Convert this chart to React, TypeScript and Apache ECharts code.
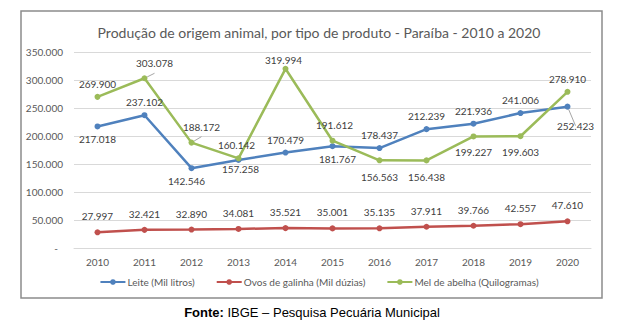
import React, { useEffect, useRef } from "react";
import * as echarts from "echarts";

const years = ["2010", "2011", "2012", "2013", "2014", "2015", "2016", "2017", "2018", "2019", "2020"];
const leite = [217018, 237102, 142546, 157258, 170479, 181767, 178437, 212239, 221936, 241006, 252423];
const ovos = [27997, 32421, 32890, 34081, 35521, 35001, 35135, 37911, 39766, 42557, 47610];
const mel = [269900, 303078, 188172, 160142, 319994, 191612, 156563, 156438, 199227, 199603, 278910];

const leitePos = ["bottom", "top", "bottom", "bottom", "top", "bottom", "top", "top", "top", "top", "bottom"];
const melPos = ["top", "top", "top", "top", "top", "top", "bottom", "bottom", "bottom", "bottom", "top"];
const leiteOffset: number[][] = [[0, 0], [0, 0], [-5, 0], [2, -4], [0, 0], [5, 0], [0, 0], [0, 0], [0, 0], [0, 0], [8, 6]];
const melOffset: number[][] = [[0, 0], [10, -2], [10, -3], [-2, 0], [-2, 4], [2, -3], [0, 4], [0, 4], [0, 3], [0, 3], [0, 0]];

const fmt = (v: number) => String(Math.round(v)).replace(/\B(?=(\d{3})+(?!\d))/g, ".");

const LABEL = { color: "#404040", fontSize: 10, fontFamily: "Lato" };

export default function App() {
  const ref = useRef<HTMLDivElement>(null);
  useEffect(() => {
    const chart = echarts.init(ref.current!, null, { renderer: "svg" });
    const mk = (vals: number[], pos: string[], off: number[][]) =>
      vals.map((v, i) => ({
        value: v,
        label: { position: pos[i], offset: off[i], distance: 5 },
        labelLine: { show: Math.abs(off[i][0]) >= 8, lineStyle: { color: "#a6a6a6", width: 1 } },
      }));
    chart.setOption({
      animation: false,
      textStyle: { fontFamily: "Lato" },
      title: {
        text: "Produção de origem animal, por tipo de produto - Paraíba - 2010 a 2020",
        left: "center",
        top: 20,
        textStyle: { fontFamily: "Lato", fontSize: 14, fontWeight: "normal", color: "#595959" },
      },
      grid: { left: 74, right: 47, top: 52, bottom: 85, containLabel: false },
      legend: {
        bottom: 41,
        left: "center",
        itemWidth: 25,
        itemHeight: 7,
        itemGap: 21,
        textStyle: { fontFamily: "Lato", fontSize: 10, color: "#595959", padding: [0, 0, 0, -3] },
        data: ["Leite (Mil litros)", "Ovos de galinha (Mil dúzias)", "Mel de abelha (Quilogramas)"],
      },
      xAxis: {
        type: "category",
        data: years,
        axisTick: { show: false },
        axisLine: { lineStyle: { color: "#d9d9d9" } },
        axisLabel: { color: "#595959", fontSize: 10, fontFamily: "Lato", margin: 9 },
      },
      yAxis: {
        type: "value",
        min: 0,
        max: 350000,
        interval: 50000,
        axisLine: { show: false },
        axisTick: { show: false },
        splitLine: { lineStyle: { color: "#d9d9d9" } },
        axisLabel: {
          color: "#595959",
          fontSize: 10,
          fontFamily: "Lato",
          margin: 11,
          formatter: (v: number) => (v === 0 ? "{d|-}" : fmt(v)),
          rich: { d: { color: "#595959", fontSize: 10, fontFamily: "Lato", padding: [0, 5, 0, 0] } },
        },
      },
      series: [
        {
          name: "Leite (Mil litros)",
          type: "line",
          data: mk(leite, leitePos, leiteOffset),
          color: "#4F81BD",
          lineStyle: { width: 2.5 },
          symbol: "circle",
          symbolSize: 6,
          label: { show: true, ...LABEL, formatter: (p: any) => fmt(p.value) },
        },
        {
          name: "Ovos de galinha (Mil dúzias)",
          type: "line",
          data: ovos.map((v) => ({ value: v })),
          color: "#C0504D",
          lineStyle: { width: 2.5 },
          symbol: "circle",
          symbolSize: 6,
          label: { show: true, position: "top", distance: 8, ...LABEL, formatter: (p: any) => fmt(p.value) },
        },
        {
          name: "Mel de abelha (Quilogramas)",
          type: "line",
          data: mk(mel, melPos, melOffset),
          color: "#9BBB59",
          lineStyle: { width: 2.5 },
          symbol: "circle",
          symbolSize: 6,
          label: { show: true, ...LABEL, formatter: (p: any) => fmt(p.value) },
        },
      ],
      graphic: [
        {
          type: "rect",
          shape: { x: 21, y: 11, width: 581, height: 287 },
          style: { fill: "none", stroke: "#8c8c8c", lineWidth: 1.5 },
          silent: true,
        },
        {
          type: "text",
          x: 312,
          y: 312,
          style: {
            text: "{b|Fonte:} IBGE – Pesquisa Pecuária Municipal",
            align: "center",
            verticalAlign: "middle",
            fontFamily: "Liberation Sans",
            fontSize: 13,
            fill: "#000",
            rich: { b: { fontWeight: "bold", fontFamily: "Liberation Sans", fontSize: 13, fill: "#000" } },
          },
        },
      ],
    });
    return () => chart.dispose();
  }, []);
  return <div ref={ref} style={{ position: "absolute", left: 0, top: 0, width: 638, height: 333 }} />;
}
